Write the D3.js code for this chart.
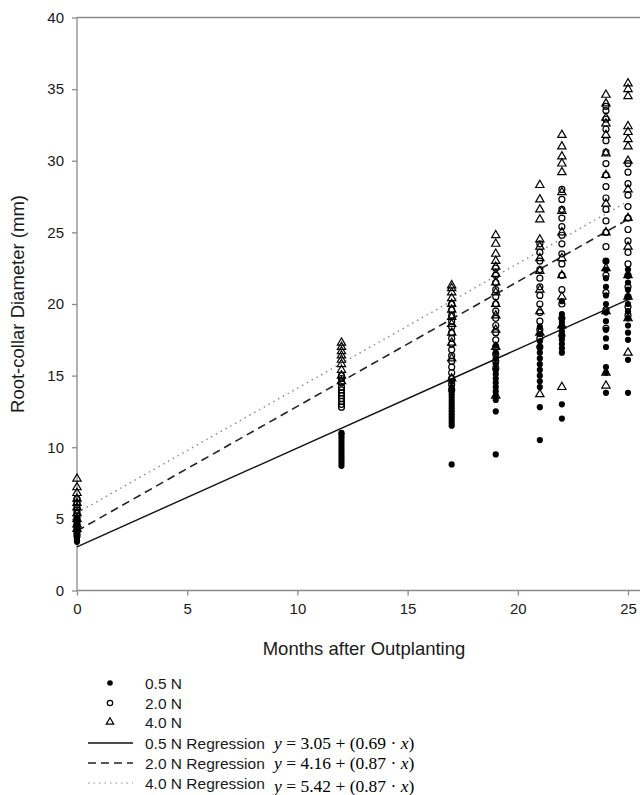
<!DOCTYPE html>
<html><head><meta charset="utf-8">
<script src="https://cdn.jsdelivr.net/npm/d3@7"></script>
<style>body{margin:0;background:#fff;} svg{display:block;}</style>
</head><body>
<svg id="chart" width="640" height="795"></svg>
<script>
const months = [0, 12, 17, 19, 21, 22, 24, 25];
const xTicks = [0, 5, 10, 15, 20, 25];
const yTicks = [0, 5, 10, 15, 20, 25, 30, 35, 40];
const seriesNames = ["0.5 N", "2.0 N", "4.0 N"];
// values per month (same order as months)
const n05 = [
  [3.4,3.5,3.6,3.7,3.8,3.9,4.0,4.1,4.2,4.3,4.4,4.5,4.7,4.9,5.1],
  [8.7,8.9,9.1,9.3,9.5,9.7,9.9,10.1,10.3,10.5,10.7,10.9,11.0],
  [8.8,11.5,11.7,11.9,12.1,12.3,12.5,12.7,12.9,13.1,13.3,13.5,13.7,13.9,14.2,14.6],
  [9.5,12.5,13.3,13.6,13.9,14.2,14.5,14.8,15.1,15.4,15.8,16.2,16.6,17.1],
  [10.5,12.8,14.2,14.6,15.0,15.4,15.8,16.2,16.6,17.0,17.4,17.9,18.4],
  [12.0,13.0,16.6,16.9,17.2,17.5,17.8,18.1,18.4,18.7,19.0,19.3,20.2],
  [13.8,15.2,15.6,17.0,17.6,18.2,18.8,19.4,20.0,20.6,21.2,21.8,22.4,23.0],
  [13.8,16.1,17.5,18.0,18.5,19.0,19.5,20.0,20.5,21.0,21.5,22.0,22.4]
];
const n20 = [
  [3.8,4.0,4.2,4.4,4.6,4.8,5.0,5.2,5.4,5.6,5.8,6.1,6.4],
  [12.8,13.0,13.2,13.4,13.6,13.8,14.0,14.2,14.5,14.8,15.0],
  [14.0,14.4,14.8,15.2,15.6,16.0,16.4,16.8,17.2,17.6,18.0,18.4,18.8,19.2,19.6,20.0],
  [15.5,16.0,16.5,17.0,17.5,18.0,18.5,19.0,19.5,20.0,20.5,21.0,21.5,22.0,22.5],
  [17.0,17.6,18.2,18.8,19.4,20.0,20.6,21.2,21.8,22.4,23.0,23.6,24.2],
  [17.8,19.0,20.0,21.0,22.0,22.8,23.5,24.2,24.8,25.4,26.0,26.6,27.3,28.0],
  [18.3,19.6,20.8,22.0,23.0,24.0,25.0,25.8,26.6,27.4,28.2,29.0,29.8,30.6,31.4,32.2,32.9,33.5,33.8],
  [19.2,19.8,20.5,21.2,22.0,22.8,23.6,24.4,25.2,26.0,26.8,27.6,28.4,29.2,29.8]
];
const n40 = [
  [4.3,4.6,5.0,5.4,5.8,6.1,6.4,6.8,7.2,7.8],
  [14.6,15.0,15.4,15.8,16.1,16.4,16.7,17.0,17.3],
  [14.8,16.2,17.3,18.0,18.6,19.1,19.6,20.0,20.4,20.8,21.1,21.3],
  [13.6,17.0,18.2,19.2,20.0,20.8,21.5,22.1,22.6,23.0,23.5,24.2,24.8],
  [13.7,18.0,19.5,21.0,22.3,23.2,24.0,24.5,25.9,26.6,27.3,28.3],
  [14.2,18.5,20.5,22.0,23.2,25.0,26.5,27.8,29.2,29.8,30.3,31.0,31.8],
  [14.3,15.2,19.5,22.5,25.0,27.0,29.0,30.5,31.8,32.6,33.0,34.0,34.6],
  [16.6,19.0,20.5,22.0,24.0,26.0,28.0,30.0,31.0,31.5,32.0,32.4,34.5,35.0,35.4]
];
const intercepts = [3.05, 4.16, 5.42];
const slopes = [0.69, 0.87, 0.87];
const eqTexts = [["3.05","0.69"],["4.16","0.87"],["5.42","0.87"]];

const svg = d3.select("#chart");
const x = d3.scaleLinear().domain([0, 25]).range([77, 628]);
const y = d3.scaleLinear().domain([0, 40]).range([590.5, 17.5]);
const axisColor = "#8a8a8a";
const textColor = "#1a1a1a";
const sans = "Arial, 'Liberation Sans', sans-serif";
const serif = "'Times New Roman', 'Liberation Serif', serif";

// top frame line
svg.append("line").attr("x1", x(0)).attr("x2", 640).attr("y1", y(40)).attr("y2", y(40))
  .attr("stroke", axisColor).attr("stroke-width", 1.3);

const yAxis = svg.append("g").attr("transform", `translate(${x(0)},0)`)
  .call(d3.axisLeft(y).tickValues(yTicks).tickSize(5).tickPadding(8).tickFormat(d3.format("d")));
const xAxis = svg.append("g").attr("transform", `translate(0,${y(0)})`)
  .call(d3.axisBottom(x).tickValues(xTicks).tickSize(5).tickPadding(8).tickFormat(d3.format("d")));
[yAxis, xAxis].forEach(g => {
  g.select(".domain").attr("stroke", axisColor).attr("stroke-width", 1.3);
  g.selectAll(".tick line").attr("stroke", axisColor).attr("stroke-width", 1.3);
  g.selectAll(".tick text").attr("fill", textColor).style("font-family", sans).style("font-size", "15px");
});
xAxis.select(".domain").attr("d", `M${x(0)},0H640`);
yAxis.select(".domain").attr("d", `M0,${y(0)}V${y(40)}`);

svg.append("text").attr("transform", `translate(24,${(y(0)+y(40))/2}) rotate(-90)`)
  .attr("text-anchor", "middle").attr("fill", textColor)
  .style("font-family", sans).style("font-size", "18.5px").text("Root-collar Diameter (mm)");
svg.append("text").attr("x", 364).attr("y", 655).attr("text-anchor", "middle").attr("fill", textColor)
  .style("font-family", sans).style("font-size", "18.5px").text("Months after Outplanting");

// regression lines
const dashes = [null, "8,5", "1.5,4"];
const lineColors = ["#111", "#222", "#888"];
const lineWidths = [1.4, 1.6, 1.4];
intercepts.forEach((b, i) => {
  const line = d3.line().x(d => x(d)).y(d => y(b + slopes[i] * d));
  svg.append("path").datum([0, 25]).attr("d", line).attr("fill", "none")
    .attr("stroke", lineColors[i]).attr("stroke-width", lineWidths[i])
    .attr("stroke-dasharray", dashes[i]);
});

// points
const tri = d3.symbol().type(d3.symbolTriangle).size(30);
function drawSeries(data, kind) {
  const pts = [];
  data.forEach((vals, mi) => vals.forEach(v => pts.push([months[mi], v])));
  const g = svg.append("g");
  if (kind === 0) {
    g.selectAll("circle").data(pts).join("circle")
      .attr("cx", d => x(d[0])).attr("cy", d => y(d[1])).attr("r", 3.1).attr("fill", "#000");
  } else if (kind === 1) {
    g.selectAll("circle").data(pts).join("circle")
      .attr("cx", d => x(d[0])).attr("cy", d => y(d[1])).attr("r", 3)
      .attr("fill", "none").attr("stroke", "#000").attr("stroke-width", 1.2);
  } else {
    g.selectAll("path").data(pts).join("path").attr("d", tri)
      .attr("transform", d => `translate(${x(d[0])},${y(d[1])})`)
      .attr("fill", "none").attr("stroke", "#000").attr("stroke-width", 1.2);
  }
}
drawSeries(n05, 0);
drawSeries(n20, 1);
drawSeries(n40, 2);

// legend
const lg = svg.append("g");
const legY = [683, 703, 722];
const lblX = 145;
const legFont = "15.5px";
lg.append("circle").attr("cx", 110).attr("cy", legY[0]).attr("r", 2.8).attr("fill", "#000");
lg.append("circle").attr("cx", 110).attr("cy", legY[1]).attr("r", 2.7).attr("fill", "none").attr("stroke", "#000").attr("stroke-width", 1.2);
lg.append("path").attr("d", d3.symbol().type(d3.symbolTriangle).size(24)).attr("transform", `translate(110,${legY[2]})`)
  .attr("fill", "none").attr("stroke", "#000").attr("stroke-width", 1.2);
seriesNames.forEach((s, i) => {
  lg.append("text").attr("x", lblX).attr("y", legY[i] + 5.5).attr("fill", textColor)
    .style("font-family", sans).style("font-size", legFont).text(s);
});
const regY = [743, 763, 783];
seriesNames.forEach((s, i) => {
  lg.append("line").attr("x1", 88).attr("x2", 133).attr("y1", regY[i]).attr("y2", regY[i])
    .attr("stroke", lineColors[i]).attr("stroke-width", i === 2 ? 1 : 1.4).attr("stroke-dasharray", dashes[i]);
  lg.append("text").attr("x", lblX).attr("y", regY[i] + 5.5).attr("fill", textColor)
    .style("font-family", sans).style("font-size", legFont).text(s + " Regression");
  const t = lg.append("text").attr("x", 274).attr("y", regY[i] + 5.5 + (i === 2 ? 3 : 0)).attr("fill", "#000")
    .style("font-family", serif).style("font-size", "17.5px");
  t.append("tspan").style("font-style", "italic").text("y");
  t.append("tspan").text(" = " + eqTexts[i][0] + " + (" + eqTexts[i][1] + " \u00b7 ");
  t.append("tspan").style("font-style", "italic").text("x");
  t.append("tspan").text(")");
});
</script>
</body></html>
